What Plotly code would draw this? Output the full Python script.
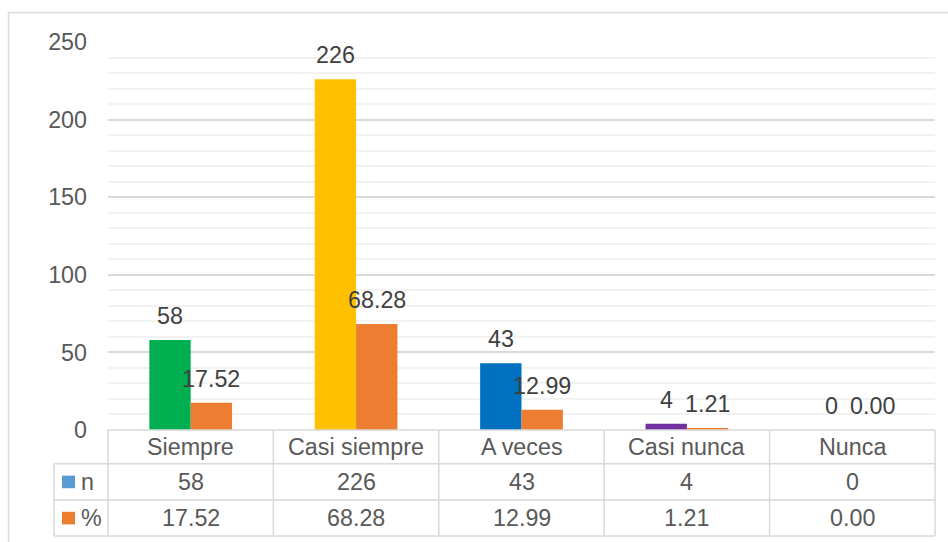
import plotly.graph_objects as go

# Survey responses: frequency (n) and share (%) per answer
categories = ["Siempre", "Casi siempre", "A veces", "Casi nunca", "Nunca"]
n_values = [58, 226, 43, 4, 0]
pct_values = [17.52, 68.28, 12.99, 1.21, 0.00]
n_colors = ["#00B050", "#FFC000", "#0070C0", "#7030A0", "#A5A5A5"]
series_names = ["n", "%"]
key_colors = ["#5B9BD5", "#ED7D31"]
pct_color = "#ED7D31"
y_ticks = [0, 50, 100, 150, 200, 250]

W, H = 948, 542
PL, PR, PT, PB = 108, 935, 42, 430.5  # plot area in pixels
FONT = "Liberation Sans, Arial, sans-serif"
FS = 23.3
GRID = "#d9d9d9"
TXT = "#595959"
LBL = "#404040"


def px_x(px):
    return (px - PL) / (PR - PL)


def px_y(py):
    return (PB - py) / (PB - PT)


fig = go.Figure()
fig.add_trace(go.Bar(x=categories, y=n_values, name=series_names[0],
                     marker=dict(color=n_colors, line=dict(width=0))))
fig.add_trace(go.Bar(x=categories, y=pct_values, name=series_names[1],
                     marker=dict(color=pct_color, line=dict(width=0))))

annotations = []
# value labels above each bar
for i, (nv, pv) in enumerate(zip(n_values, pct_values)):
    annotations.append(dict(x=i - 0.125, y=nv, xref="x", yref="y", text=f"{nv}",
                            showarrow=False, yanchor="middle", yshift=24,
                            font=dict(family=FONT, size=FS, color=LBL)))
    annotations.append(dict(x=i + 0.125, y=pv, xref="x", yref="y", text=f"{pv:.2f}",
                            showarrow=False, yanchor="middle", yshift=24,
                            font=dict(family=FONT, size=FS, color=LBL)))

# data table rows below the axis
row_edges = [430.5, 464.3, 500.7, 536.7]
row_left = 54
for i, cat in enumerate(categories):
    annotations.append(dict(x=i, y=px_y((row_edges[0] + row_edges[1]) / 2), xref="x", yref="paper",
                            text=cat, showarrow=False, yanchor="middle",
                            font=dict(family=FONT, size=FS, color=TXT)))
    annotations.append(dict(x=i, y=px_y((row_edges[1] + row_edges[2]) / 2), xref="x", yref="paper",
                            text=f"{n_values[i]}", showarrow=False, yanchor="middle",
                            font=dict(family=FONT, size=FS, color=TXT)))
    annotations.append(dict(x=i, y=px_y((row_edges[2] + row_edges[3]) / 2), xref="x", yref="paper",
                            text=f"{pct_values[i]:.2f}", showarrow=False, yanchor="middle",
                            font=dict(family=FONT, size=FS, color=TXT)))

shapes = []
line = dict(color=GRID, width=1.5)
# outer chart border
shapes.append(dict(type="rect", xref="paper", yref="paper",
                   x0=px_x(8.5), x1=px_x(W + 20), y0=px_y(12.5), y1=px_y(H + 20),
                   line=line, fillcolor="rgba(0,0,0,0)", layer="below"))
# horizontal table rules
shapes.append(dict(type="line", xref="paper", yref="paper", x0=0, x1=1,
                   y0=px_y(row_edges[0]), y1=px_y(row_edges[0]), line=line))
for r in row_edges[1:]:
    shapes.append(dict(type="line", xref="paper", yref="paper", x0=px_x(row_left), x1=1,
                       y0=px_y(r), y1=px_y(r), line=line))
# vertical table rules
ncat = len(categories)
for k in range(ncat + 1):
    shapes.append(dict(type="line", xref="paper", yref="paper", x0=k / ncat, x1=k / ncat,
                       y0=px_y(row_edges[0]), y1=px_y(row_edges[3]), line=line))
shapes.append(dict(type="line", xref="paper", yref="paper", x0=px_x(row_left), x1=px_x(row_left),
                   y0=px_y(row_edges[1]), y1=px_y(row_edges[3]), line=line))
# legend keys and series names in the row header column
for j, (name, col) in enumerate(zip(series_names, key_colors)):
    yc = (row_edges[j + 1] + row_edges[j + 2]) / 2
    shapes.append(dict(type="rect", xref="paper", yref="paper",
                       x0=px_x(62), x1=px_x(75), y0=px_y(yc - 6.3), y1=px_y(yc + 6.3),
                       line=dict(width=0), fillcolor=col))
    annotations.append(dict(x=px_x(79), y=px_y(yc), xref="paper", yref="paper", text=name,
                            showarrow=False, xanchor="left", yanchor="middle",
                            font=dict(family=FONT, size=FS, color=TXT)))

fig.update_layout(
    width=W, height=H,
    margin=dict(l=PL, r=W - PR, t=PT, b=H - PB, pad=0),
    paper_bgcolor="white", plot_bgcolor="white",
    barmode="group", bargap=0.5, bargroupgap=0,
    showlegend=False,
    font=dict(family=FONT, size=FS, color=TXT),
    annotations=annotations, shapes=shapes,
)
fig.update_xaxes(type="category", showticklabels=False, showgrid=False, zeroline=False,
                 showline=False, ticks="")
fig.update_yaxes(range=[0, 250], tickvals=y_ticks, showgrid=True, gridcolor=GRID, gridwidth=1.5,
                 zeroline=False, showline=False, ticks="", ticklabelstandoff=20,
                 tickfont=dict(family=FONT, size=FS, color=TXT),
                 minor=dict(dtick=10, showgrid=True, gridcolor="#f2f2f2", gridwidth=1.5))

fig.write_html("out.html")
